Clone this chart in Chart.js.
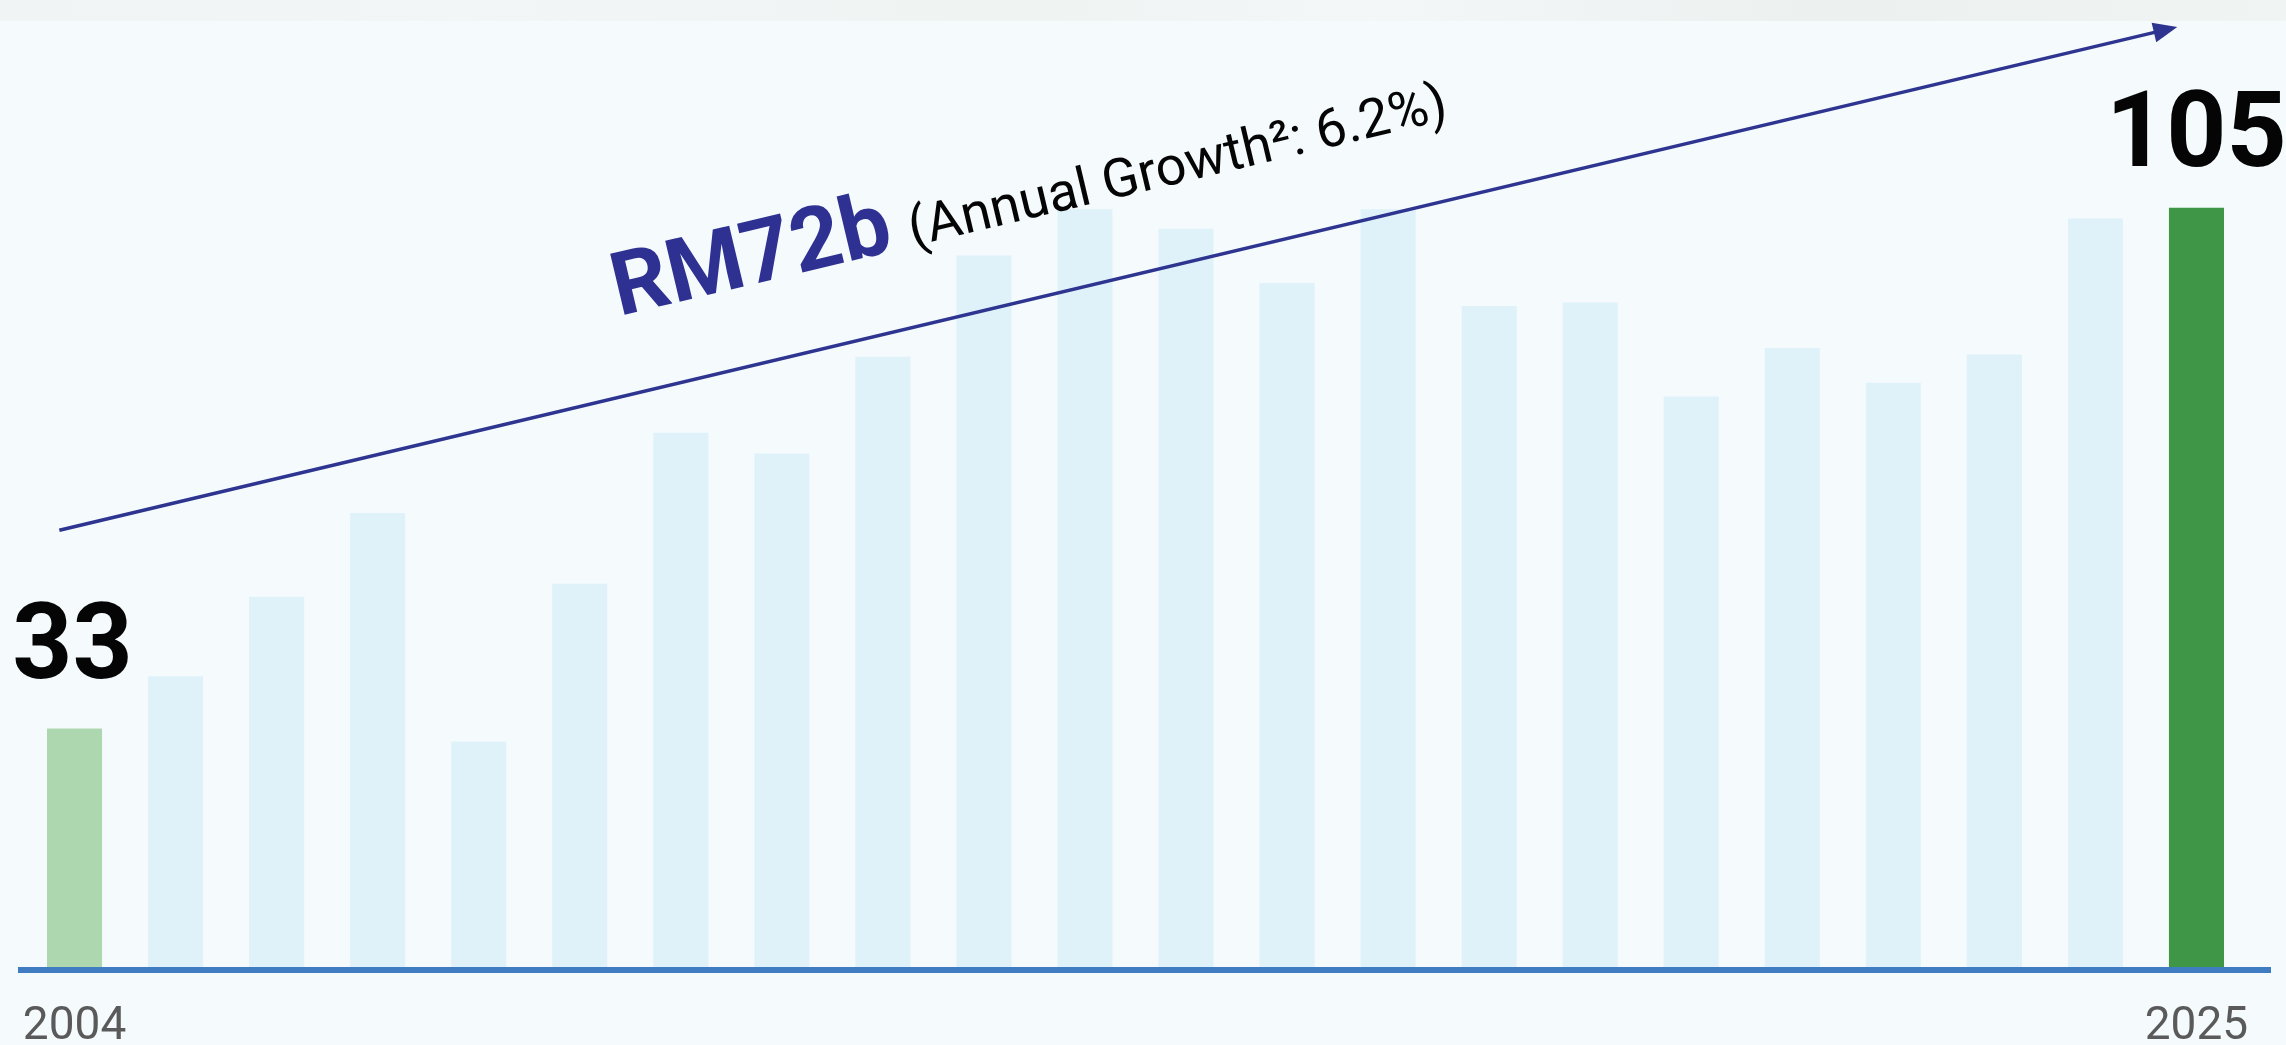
<!DOCTYPE html>
<html>
<head>
<meta charset="utf-8">
<script src="https://cdn.jsdelivr.net/npm/chart.js@4.4.1/dist/chart.umd.min.js"></script>
<style>
  html, body { margin: 0; padding: 0; background: #F5FAFD; }
  #wrap { position: relative; width: 2286px; height: 1045px; overflow: hidden; }
  #band {
    position: absolute; left: 0; top: 0; width: 2286px; height: 21px;
    background: linear-gradient(90deg, #F0F4F4 0%, #F2F6F6 20%, #EFF3F2 45%, #F3F7F7 60%, #ECF1F0 80%, #F0F4F3 100%);
  }
  #chartBox { position: absolute; left: 0; top: 0; width: 2286px; height: 1045px; }
</style>
</head>
<body>
<div id="wrap">
  <div id="band"></div>
  <div id="chartBox"><canvas id="valueChart"></canvas></div>
</div>
<script>
// --- Data ---
const years = ["2004", "2005", "2006", "2007", "2008", "2009", "2010", "2011", "2012", "2013", "2014",
               "2015", "2016", "2017", "2018", "2019", "2020", "2021", "2022", "2023", "2024", "2025"];
const values = [33, 40.2, 51.2, 62.8, 31.2, 53, 73.9, 71, 84.4, 98.4, 104.8,
                102.1, 94.6, 104.8, 91.4, 91.9, 78.9, 85.6, 80.8, 84.7, 103.5, 105];
const labelledYears = ["2004", "2025"];
const trendStart = [-0.15, 60.4];   // [category index, value]
const trendEnd = [20.81, 130];
const trendTitle = "RM72b";
const trendNote = "(Annual Growth\u00B2: 6.2%)";

// --- Colours ---
const barColors = years.map((y, i) =>
  i === 0 ? "#ADD7AE" : i === years.length - 1 ? "#3F9646" : "#DFF2F9");

// --- Helper plugin: baseline, arrow, labels ---
const decorations = {
  id: "decorations",
  beforeDatasetsDraw(chart) {
    const { ctx, chartArea } = chart;
    ctx.save();
    ctx.fillStyle = "#3F7CC2";
    ctx.fillRect(chartArea.left - 6, chartArea.bottom, chartArea.right - chartArea.left + 30, 6);
    ctx.restore();
  },
  afterDatasetsDraw(chart) {
    const { ctx } = chart;
    const xs = chart.scales.x, ys = chart.scales.y;
    const meta = chart.getDatasetMeta(0);

    // value labels on first and last bar
    ctx.save();
    ctx.fillStyle = "#050505";
    ctx.font = "bold 105px Roboto";
    ctx.textAlign = "center";
    ctx.textBaseline = "alphabetic";
    years.forEach((y, i) => {
      if (!labelledYears.includes(y)) return;
      const bar = meta.data[i];
      const lift = i === 0 ? 50 : 42;
      ctx.fillText(String(values[i]), bar.x - (i === 0 ? 2 : 0), bar.y - lift);
    });
    ctx.restore();

    // trend arrow
    const x0 = xs.getPixelForValue(trendStart[0]), y0 = ys.getPixelForValue(trendStart[1]);
    const x1 = xs.getPixelForValue(trendEnd[0]), y1 = ys.getPixelForValue(trendEnd[1]);
    const ang = Math.atan2(y1 - y0, x1 - x0);
    ctx.save();
    ctx.strokeStyle = "#2E3590";
    ctx.fillStyle = "#2E3590";
    ctx.lineWidth = 3.5;
    ctx.beginPath();
    ctx.moveTo(x0, y0);
    ctx.lineTo(x1 - 18 * Math.cos(ang), y1 - 18 * Math.sin(ang));
    ctx.stroke();
    ctx.translate(x1, y1);
    ctx.rotate(ang);
    ctx.beginPath();
    ctx.moveTo(0, 0);
    ctx.lineTo(-24, -10);
    ctx.lineTo(-24, 10);
    ctx.closePath();
    ctx.fill();
    ctx.restore();

    // rotated caption above the arrow
    const t = 0.273, d = 79;
    const ax = x0 + t * (x1 - x0) + d * Math.sin(ang);
    const ay = y0 + t * (y1 - y0) - d * Math.cos(ang);
    ctx.save();
    ctx.translate(ax, ay);
    ctx.rotate(ang);
    ctx.textBaseline = "alphabetic";
    ctx.textAlign = "left";
    ctx.font = "bold 88px Roboto";
    ctx.fillStyle = "#2E3192";
    ctx.fillText(trendTitle, 0, 0);
    const w = ctx.measureText(trendTitle + " ").width;
    ctx.font = "54px Roboto";
    ctx.fillStyle = "#050505";
    ctx.fillText(trendNote, w - 4, 0);
    ctx.restore();
  }
};

const chart = new Chart(document.getElementById("valueChart"), {
  type: "bar",
  data: {
    labels: years,
    datasets: [{
      data: values,
      backgroundColor: barColors,
      borderWidth: 0,
      categoryPercentage: 1,
      barPercentage: 0.545
    }]
  },
  options: {
    responsive: true,
    maintainAspectRatio: false,
    animation: false,
    events: [],
    layout: { padding: { left: 24, right: 39, top: 27, bottom: 0 } },
    plugins: { legend: { display: false }, tooltip: { enabled: false } },
    scales: {
      x: {
        grid: { display: false, drawTicks: false },
        border: { display: false },
        ticks: {
          autoSkip: false,
          maxRotation: 0,
          padding: 37,
          color: "#5A5A5A",
          font: { family: "Roboto", size: 46, lineHeight: 1 },
          callback: (v, i) => labelledYears.includes(years[i]) ? years[i] : ""
        },
        afterFit(s) { s.height = 78; s.paddingLeft = 0; s.paddingRight = 0; }
      },
      y: { display: false, min: 0, max: 130 }
    }
  },
  plugins: [decorations]
});
</script>
</body>
</html>
